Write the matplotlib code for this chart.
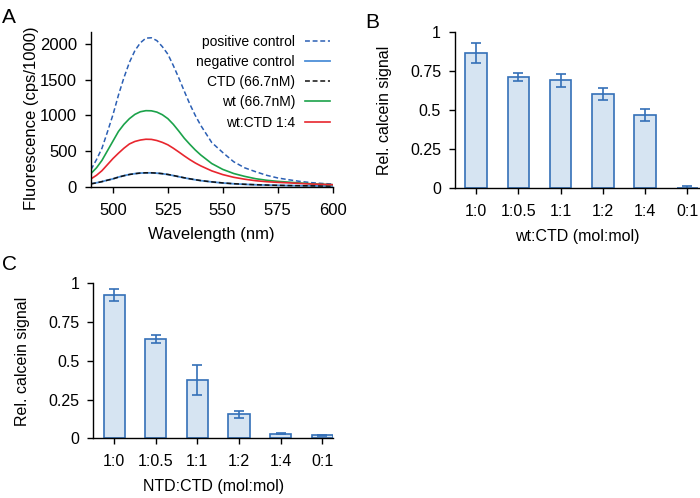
import numpy as np
import matplotlib
matplotlib.use('Agg')
from matplotlib import pyplot as plt

plt.rcParams['font.family'] = ['Liberation Sans', 'DejaVu Sans']
plt.rcParams['font.size'] = 10

# Panel A: emission spectra
wavelength = [490, 492.5, 495, 497.5, 500, 502.5, 505, 507.5, 510, 512.5, 515, 517.5,
              520, 522.5, 525, 527.5, 530, 532.5, 535, 537.5, 540, 545, 550, 555,
              560, 565, 570, 575, 580, 585, 590, 595, 600]
positive = [240, 380, 540, 770, 1010, 1285, 1530, 1745, 1910, 2020, 2085, 2090,
            2050, 1965, 1860, 1700, 1525, 1340, 1160, 1000, 860, 620, 480, 350,
            265, 210, 160, 123, 98, 75, 58, 46, 38]
negative = [42, 55, 72, 92, 110, 135, 155, 172, 183, 191, 194, 194,
            190, 182, 171, 156, 140, 124, 110, 97, 85, 67, 52, 41,
            33, 27, 23, 19, 16, 14, 12, 10, 9]
ctd = [40, 54, 71, 91, 110, 134, 154, 171, 183, 192, 195, 195,
       191, 183, 172, 157, 141, 125, 111, 98, 86, 68, 53, 42,
       34, 28, 23, 19, 16, 14, 12, 10, 9]
wt = [185, 265, 370, 505, 640, 775, 875, 955, 1015, 1052, 1067, 1065,
      1047, 1010, 955, 875, 780, 680, 595, 515, 445, 325, 243, 185,
      145, 112, 90, 75, 64, 52, 42, 34, 28]
wt_ctd = [110, 160, 225, 310, 395, 470, 540, 600, 635, 655, 666, 664,
          648, 622, 588, 540, 487, 432, 380, 333, 292, 222, 170, 132,
          105, 84, 70, 61, 54, 46, 38, 33, 28]

# Panels B and C: relative calcein signal
ratios = ['1:0', '1:0.5', '1:1', '1:2', '1:4', '0:1']
wt_signal = [0.865, 0.712, 0.692, 0.603, 0.470, 0.004]
wt_err = [0.064, 0.025, 0.04, 0.04, 0.036, 0.013]
ntd_signal = [0.925, 0.640, 0.379, 0.156, 0.030, 0.021]
ntd_err = [0.041, 0.027, 0.097, 0.024, 0.003, 0.003]

blue_dark = '#2b5fb4'
blue_light = '#4d8fd8'
green = '#1ba24a'
red = '#e8262e'
bar_face = '#d6e4f2'
bar_edge = '#3470b8'

fig = plt.figure(figsize=(7, 4.98), dpi=100)


def style_axes(ax, size):
    for s in ['top', 'right']:
        ax.spines[s].set_visible(False)
    for s in ['left', 'bottom']:
        ax.spines[s].set_linewidth(1.0)
    ax.tick_params(direction='out', length=4, width=1.0, pad=6, labelsize=size)
    ax.tick_params(axis='x', pad=7.5)


# ---- A ----
axA = fig.add_axes([0.130, 0.6251, 0.345, 0.3112])
dash = (0, (3.2, 1.8))
axA.plot(wavelength, positive, color=blue_dark, lw=1.1, ls=dash, label='positive control')
axA.plot(wavelength, negative, color=blue_light, lw=1.3, label='negative control')
axA.plot(wavelength, ctd, color='#111111', lw=1.1, ls=dash, label='CTD (66.7nM)')
axA.plot(wavelength, wt, color=green, lw=1.2, label='wt (66.7nM)')
axA.plot(wavelength, wt_ctd, color=red, lw=1.2, label='wt:CTD 1:4')
axA.set_xlim(490, 600)
axA.set_ylim(0, 2175)
axA.set_xticks([500, 525, 550, 575, 600])
axA.set_yticks([0, 500, 1000, 1500, 2000])
axA.set_xlabel('Wavelength (nm)', fontsize=12, labelpad=7)
axA.set_ylabel('Fluorescence (cps/1000)', fontsize=12, labelpad=9)
axA.yaxis.set_label_coords(-0.215, 0.44)
style_axes(axA, 12)
axA.legend(loc='upper right', bbox_to_anchor=(1.0, 1.0), frameon=False, markerfirst=False,
           handlelength=1.8, handletextpad=0.7, labelspacing=0.45, borderpad=0.2,
           borderaxespad=0, fontsize=10)


def bar_panel(rect, values, errors, xlabel, right):
    ax = fig.add_axes(rect)
    x = np.arange(len(ratios))
    ax.bar(x, values, width=0.51, color=bar_face, edgecolor=bar_edge, linewidth=1.2)
    ax.errorbar(x, values, yerr=errors, fmt='none', ecolor=bar_edge, elinewidth=1.2,
                capsize=3.5, capthick=1.2)
    ax.set_xticks(x)
    ax.set_xticklabels(ratios)
    ax.set_xlim(-0.5, right)
    ax.set_ylim(0, 1)
    ax.set_yticks([0, 0.25, 0.5, 0.75, 1])
    ax.set_yticklabels(['0', '0.25', '0.5', '0.75', '1'])
    ax.set_xlabel(xlabel, fontsize=11.5, labelpad=7)
    ax.set_ylabel('Rel. calcein signal', fontsize=11.5, labelpad=13)
    style_axes(ax, 11.5)
    return ax


axB = bar_panel([0.650, 0.6219, 0.35, 0.3133], wt_signal, wt_err, 'wt:CTD (mol:mol)', 5.3)
axC = bar_panel([0.1333, 0.1195, 0.3424, 0.3116], ntd_signal, ntd_err, 'NTD:CTD (mol:mol)', 5.26)

fig.text(0.003, 0.965, 'A', fontsize=15, va='center', ha='left')
fig.text(0.522, 0.955, 'B', fontsize=15, va='center', ha='left')
fig.text(0.003, 0.468, 'C', fontsize=15, va='center', ha='left')

fig.savefig('out.png', dpi=100)
